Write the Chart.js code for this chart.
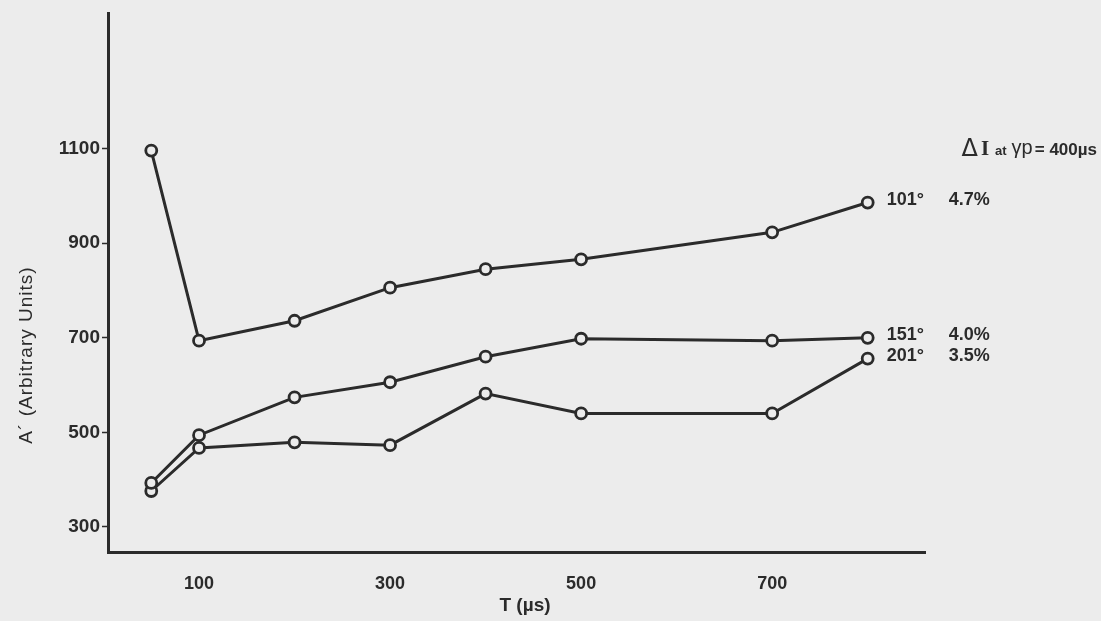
<!DOCTYPE html>
<html>
<head>
<meta charset="utf-8">
<script src="https://cdn.jsdelivr.net/npm/chart.js@4.4.1/dist/chart.umd.min.js"></script>
<style>
  html, body { margin: 0; padding: 0; background: #ececec; }
  #wrap { width: 1101px; height: 621px; position: relative; }
</style>
</head>
<body>
<div id="wrap"><canvas id="c" width="1101" height="621"></canvas></div>
<script>
// Pulse spacing T (µs)
const times = [50, 100, 200, 300, 400, 500, 700, 800];
// A' in arbitrary units for each angle
const a101 = [1096, 694, 736, 806, 845, 866, 923, 986];
const a151 = [393, 494, 574, 606, 660, 698, 694, 700];
const a201 = [376, 467, 479, 473, 582, 540, 540, 656];
// Series labels and the intensity change at tp = 400 µs
const angleLabels = ['101°', '151°', '201°'];
const deltaLabels = ['4.7%', '4.0%', '3.5%'];
// Axis ticks
const xTicks = [100, 300, 500, 700];
const yTicks = [300, 500, 700, 900, 1100];

const INK = '#2b2b2b';
const PAPER = '#ececec';
const FONT = '"Liberation Sans", Arial, sans-serif';

function series(values, label) {
  return {
    label,
    data: times.map((t, i) => ({ x: t, y: values[i] })),
    borderColor: INK,
    borderWidth: 3,
    pointRadius: 5.5,
    pointBorderWidth: 2.8,
    pointBorderColor: INK,
    pointBackgroundColor: PAPER,
    tension: 0,
    fill: false
  };
}

const labelsPlugin = {
  id: 'labels',
  afterDraw(chart) {
    const ctx = chart.ctx;
    const xs = chart.scales.x, ys = chart.scales.y;
    ctx.save();
    ctx.fillStyle = INK;
    ctx.strokeStyle = INK;

    // series end labels
    const lastT = times[times.length - 1];
    const ends = [a101, a151, a201];
    ctx.font = 'bold 18px ' + FONT;
    ctx.textBaseline = 'middle';
    ctx.textAlign = 'left';
    ends.forEach((arr, i) => {
      const px = xs.getPixelForValue(lastT) + 19;
      const py = ys.getPixelForValue(arr[arr.length - 1]) - 3;
      ctx.fillText(angleLabels[i], px, py);
      ctx.fillText(deltaLabels[i], px + 62, py);
    });

    // heading: ΔI at γp = 400µs, right-aligned to the page edge
    const parts = [
      { t: 'Δ', f: '24px "DejaVu Sans", sans-serif', dy: 8, gap: 3 },
      { t: 'I', f: 'bold 21px "Liberation Serif", serif', dy: 7, gap: 6 },
      { t: 'at', f: 'bold 13px ' + FONT, dy: 7, gap: 5 },
      { t: 'γp', f: '20px ' + FONT, dy: 6, gap: 2 },
      { t: '= 400µs', f: 'bold 17px ' + FONT, dy: 7, gap: 0 }
    ];
    ctx.textBaseline = 'alphabetic';
    let total = 0;
    parts.forEach(p => { ctx.font = p.f; p.w = ctx.measureText(p.t).width; total += p.w + p.gap; });
    let x = 1097 - total;
    const y = 148;
    parts.forEach(p => { ctx.font = p.f; ctx.fillText(p.t, x, y + p.dy); x += p.w + p.gap; });

    // axis titles
    ctx.font = 'bold 19px ' + FONT;
    ctx.textAlign = 'center';
    ctx.textBaseline = 'middle';
    ctx.fillText('T (µs)', 525, 606);

    ctx.translate(27, 355);
    ctx.rotate(-Math.PI / 2);
    ctx.font = '19px ' + FONT;
    ctx.letterSpacing = '1px';
    ctx.fillText('A´ (Arbitrary Units)', 0, 0);
    ctx.restore();
  }
};

new Chart(document.getElementById('c'), {
  type: 'line',
  data: { datasets: [series(a101, angleLabels[0]), series(a151, angleLabels[1]), series(a201, angleLabels[2])] },
  options: {
    responsive: false,
    animation: false,
    layout: { padding: { left: 0, right: 176, top: 11, bottom: 0 } },
    plugins: { legend: { display: false }, tooltip: { enabled: false } },
    scales: {
      x: {
        type: 'linear',
        min: 4.7,
        max: 860,
        afterBuildTicks: s => { s.ticks = xTicks.map(v => ({ value: v })); },
        afterFit: s => { s.height = 621 - 552; },
        grid: { display: true, drawOnChartArea: false, drawTicks: false },
        border: { display: true, color: INK, width: 3 },
        ticks: { color: INK, padding: 21, callback: v => String(v), font: { family: FONT, size: 18, weight: 'bold' } }
      },
      y: {
        type: 'linear',
        min: 247,
        max: 1386,
        afterBuildTicks: s => { s.ticks = yTicks.map(v => ({ value: v })); },
        afterFit: s => { s.width = 108; },
        grid: { display: true, drawOnChartArea: false, drawTicks: true, tickLength: 6, color: INK, tickWidth: 1.5 },
        border: { display: true, color: INK, width: 3 },
        ticks: { color: INK, padding: 2, callback: v => String(v), font: { family: FONT, size: 19, weight: 'bold' } }
      }
    }
  },
  plugins: [labelsPlugin]
});
</script>
</body>
</html>
